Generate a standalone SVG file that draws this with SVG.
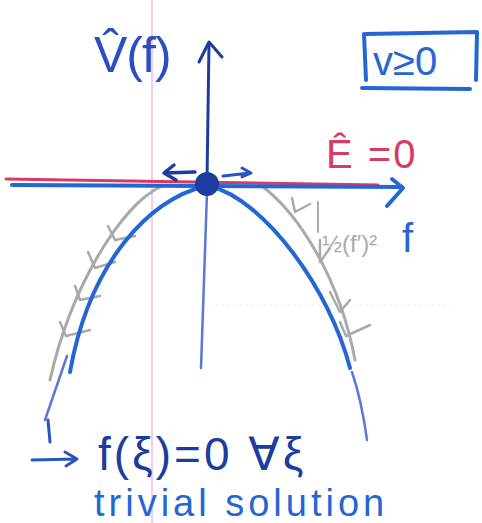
<svg xmlns="http://www.w3.org/2000/svg" width="482" height="523" viewBox="0 0 482 523">
<style>
.ink{fill:none;stroke-linecap:round;stroke-linejoin:round}
.blue{stroke:#2466d4}
.navy{stroke:#1c3c9e}
.gray{stroke:#aaaaaa}
.t{font-family:"Liberation Sans","DejaVu Sans",sans-serif}
</style>
<rect width="482" height="523" fill="#ffffff"/>
<line x1="152" y1="0" x2="152" y2="523" stroke="#f0b8f0" stroke-width="1.5"/>
<line x1="215" y1="305" x2="450" y2="305" stroke="#eeeeee" stroke-width="1" stroke-dasharray="3 3"/>
<g id="gray-curve">
<path class="ink gray" stroke-width="3" d="M162,186 C120,205 70,290 50,380"/>
<path class="ink gray" stroke-width="3" d="M262,186 C300,215 340,280 355,360"/>
<path class="ink gray" stroke-width="2.5" d="M108,226 L115,240 L135,236 M88,252 L95,268 L115,262 M75,286 L80,300 L100,296 M60,322 L66,336 L90,330 M292,198 L295,212 L310,204 M320,240 L320,262 L330,248 M330,292 L340,312 L350,300 M340,322 L346,336 L370,325"/>
<path class="ink gray" stroke-width="2" d="M318,202 L318,232"/>
</g>
<g id="blue-curve">
<path class="ink blue" stroke-width="4" d="M205,186 C150,200 90,260 70,372"/>
<path class="ink blue" stroke-width="4" d="M210,186 C265,200 330,290 350,368"/>
<path class="ink" stroke="#5a78d8" stroke-width="2.5" d="M67,356 L45,420 M352,372 C358,390 363,410 367,440"/>
</g>
<g id="axes">
<line class="ink" stroke="#5a78d8" stroke-width="2.5" x1="207" y1="192" x2="201" y2="368"/>
<line class="ink navy" stroke-width="3" x1="209" y1="44" x2="207" y2="180"/>
<path class="ink navy" stroke-width="3" d="M199,62 L209,42 L222,57"/>
<line class="ink" stroke="#d93a63" stroke-width="3" x1="6" y1="179" x2="378" y2="185"/>
<line class="ink blue" stroke-width="4" x1="12" y1="185" x2="402" y2="187"/>
<path class="ink blue" stroke-width="4" d="M392,179 L403,188 L387,206"/>
</g>
<g id="origin">
<circle cx="207" cy="184" r="12" fill="#1c3c9e"/>
<path class="ink navy" stroke-width="3.5" d="M195,172 L165,173 M174,165 L164,173 L176,180"/>
<path class="ink" stroke="#2a55c0" stroke-width="3" d="M223,176 L250,173 M242,168 L251,173 L242,177"/>
</g>
<g id="labels">
<text class="t" x="94" y="72" font-size="50" fill="#2a4fbf" letter-spacing="-1">V̂(f)</text>
<text class="t" x="326" y="168" font-size="40" fill="#d93a63" letter-spacing="2">Ê =0</text>
<text class="t" x="322" y="252" font-size="24" fill="#aaaaaa">½(f′)²</text>
<text class="t" x="402" y="252" font-size="40" fill="#2466d4">f</text>
</g>
<g id="v-box">
<path class="ink blue" stroke-width="4" d="M366,34 L477,32 L476,80 M364,34 L366,80 M362,88 L470,89"/>
<text class="t" x="373" y="75" font-size="40" fill="#2466d4">v≥0</text>
</g>
<g id="result">
<path class="ink" stroke="#2a55c0" stroke-width="3" d="M48,420 L50,442 M32,460 L76,459 M65,452 L77,459 L66,466"/>
<text class="t" x="98" y="470" font-size="46" fill="#1c3c9e" letter-spacing="3">f(ξ)=0 ∀ξ</text>
<text class="t" x="94" y="516" font-size="38" fill="#2466d4" letter-spacing="4">trivial solution</text>
</g>
</svg>
